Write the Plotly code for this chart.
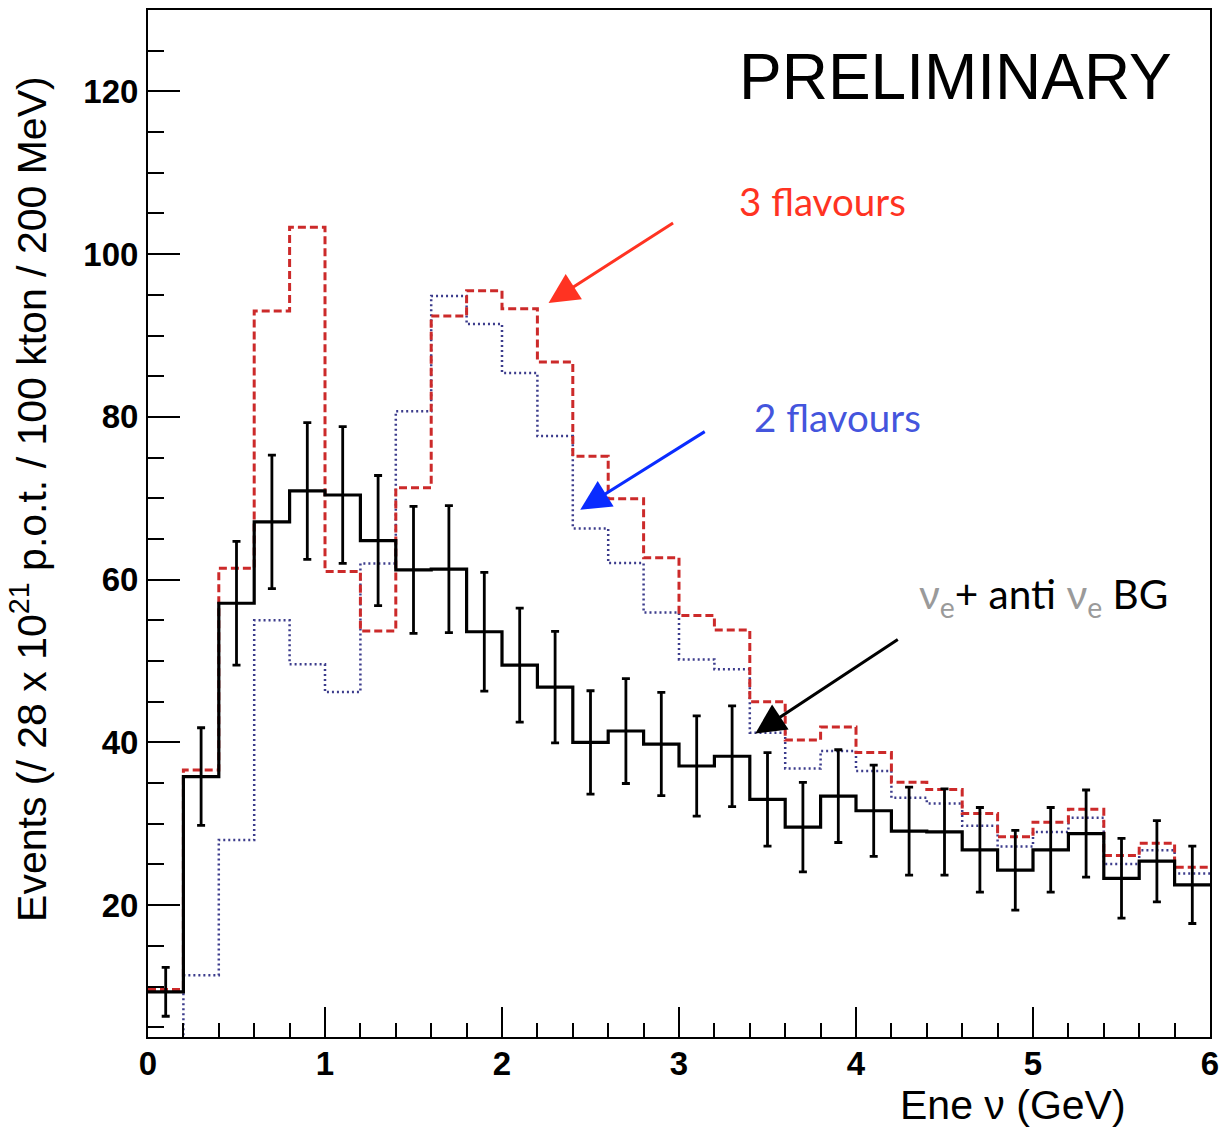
import numpy as np
import plotly.graph_objects as go

# ---- data ----
bin_width = 0.2
n_bins = 30
bin_edges = np.round(np.arange(n_bins + 1) * bin_width, 1)
bin_centers = np.round(bin_edges[:-1] + bin_width / 2, 2)

bg_counts = [9.35, 35.8, 57.1, 67.1, 70.9, 70.4, 64.8, 61.2, 61.3, 53.6,
             49.5, 46.8, 40.0, 41.4, 39.8, 37.1, 38.3, 33.0, 29.6, 33.4,
             31.6, 29.1, 29.0, 26.8, 24.3, 26.8, 28.8, 23.3, 25.4, 22.5]
bg_errors = [3.0, 6.0, 7.6, 8.2, 8.4, 8.4, 8.0, 7.8, 7.8, 7.3,
             7.0, 6.85, 6.35, 6.45, 6.35, 6.15, 6.2, 5.75, 5.5, 5.7,
             5.6, 5.4, 5.3, 5.2, 4.9, 5.2, 5.35, 4.9, 5.0, 4.75]
three_flavours = [9.65, 36.6, 61.4, 93.0, 103.3, 61.0, 53.7, 71.3, 92.4, 95.5,
                  93.3, 86.75, 75.15, 69.95, 62.7, 55.6, 53.8, 45.0, 40.3, 41.9,
                  38.75, 35.1, 34.2, 31.25, 28.4, 30.2, 31.8, 26.1, 27.6, 24.65]
two_flavours = [1.0, 11.4, 28.0, 55.0, 49.6, 46.2, 62.0, 80.7, 94.85, 91.4,
                85.4, 77.65, 66.3, 62.05, 55.95, 50.2, 49.0, 41.2, 36.8, 38.95,
                36.5, 33.2, 32.5, 29.75, 27.2, 29.0, 30.75, 25.05, 26.75, 23.9]

x_ticks = [0, 1, 2, 3, 4, 5, 6]
y_ticks = [20, 40, 60, 80, 100, 120]


def step_y(vals):
    return list(vals) + [vals[-1]]


fig = go.Figure()

fig.add_trace(go.Scatter(
    x=bin_edges, y=step_y(two_flavours), mode="lines", line_shape="hv",
    line=dict(color="#3c3c8c", width=2.5, dash="2px,3px"), showlegend=False,
    hoverinfo="skip"))
fig.add_trace(go.Scatter(
    x=bin_edges, y=step_y(three_flavours), mode="lines", line_shape="hv",
    line=dict(color="#cc2a2a", width=3, dash="8px,4px"), showlegend=False,
    hoverinfo="skip"))
fig.add_trace(go.Scatter(
    x=bin_edges, y=step_y(bg_counts), mode="lines", line_shape="hv",
    line=dict(color="black", width=3.2), showlegend=False, hoverinfo="skip"))
fig.add_trace(go.Scatter(
    x=bin_centers, y=bg_counts, mode="markers",
    marker=dict(size=1, color="black"),
    error_y=dict(type="data", array=bg_errors, visible=True,
                 color="black", thickness=2.8, width=4),
    showlegend=False))

axis_common = dict(
    showgrid=False, zeroline=False, showline=True, linecolor="black",
    linewidth=2, mirror=True, ticks="inside", tickcolor="black",
    tickwidth=1.5, automargin=False,
    tickfont=dict(family="Liberation Sans", size=33, color="black",
                  weight="bold"),
)

fig.update_xaxes(
    range=[0, 6], tickvals=x_ticks, ticklen=30,
    minor=dict(ticks="inside", dtick=0.2, tick0=0, ticklen=14,
               tickcolor="black", tickwidth=1.5),
    ticklabelstandoff=-4,
    **axis_common)
fig.update_yaxes(
    range=[3.8, 130], tickvals=y_ticks, ticklen=32,
    minor=dict(ticks="inside", dtick=5, tick0=0, ticklen=16,
               tickcolor="black", tickwidth=1.5),
    ticklabelstandoff=1,
    **axis_common)

annotations = [
    dict(text="PRELIMINARY", x=3.33, y=121.8, xref="x", yref="y",
         xanchor="left", yanchor="middle", showarrow=False,
         font=dict(family="Liberation Sans", size=64, color="black")),
    dict(text="3 flavours", x=3.33, y=106.5, xref="x", yref="y",
         xanchor="left", yanchor="middle", showarrow=False,
         font=dict(family="Lato", size=38.5, color="#ff3322")),
    dict(text="2 flavours", x=3.414, y=80.0, xref="x", yref="y",
         xanchor="left", yanchor="middle", showarrow=False,
         font=dict(family="Lato", size=38.5, color="#4455dd")),
    dict(text="<span style='color:#9a9a9a'>ν<sub>e</sub></span>+ anti "
              "<span style='color:#9a9a9a'>ν<sub>e</sub></span> BG",
         x=4.347, y=57.9, xref="x", yref="y",
         xanchor="left", yanchor="middle", showarrow=False,
         font=dict(family="Lato", size=40.5, color="black")),
    # arrows
    dict(text="", x=2.263, y=94.0, xref="x", yref="y", showarrow=True,
         ax=126, ay=-81, arrowhead=2, arrowsize=2, arrowwidth=3,
         arrowcolor="#ff3322"),
    dict(text="", x=2.442, y=68.6, xref="x", yref="y", showarrow=True,
         ax=126, ay=-79, arrowhead=2, arrowsize=2, arrowwidth=3,
         arrowcolor="#0a2cff"),
    dict(text="", x=3.431, y=41.1, xref="x", yref="y", showarrow=True,
         ax=144, ay=-95, arrowhead=2, arrowsize=2, arrowwidth=3,
         arrowcolor="black"),
    # axis titles
    dict(text="Events (/ 28 x 10<sup>21</sup> p.o.t. / 100 kton / 200 MeV)",
         x=-0.112, y=0.524, xref="paper", yref="paper", textangle=-90,
         xanchor="center", yanchor="middle", showarrow=False,
         font=dict(family="Liberation Sans", size=41, color="black")),
    dict(text="Ene ν (GeV)", x=0.9228, y=-0.066, xref="paper", yref="paper",
         xanchor="right", yanchor="middle", showarrow=False,
         font=dict(family="Liberation Sans", size=41, color="black")),
]

fig.update_layout(
    width=1220, height=1130,
    margin=dict(l=148, r=10, t=10, b=93),
    paper_bgcolor="white", plot_bgcolor="white",
    annotations=annotations,
    showlegend=False,
)

fig.write_html("out.html")
